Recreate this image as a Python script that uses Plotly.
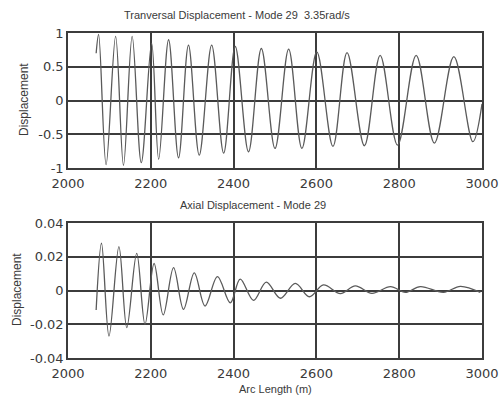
import plotly.graph_objects as go

# Transverse displacement: turning points read along the arc length (m)
trans_x = [2068, 2074, 2092, 2115, 2134, 2155, 2177, 2202, 2219, 2243, 2267,
           2291, 2317, 2347, 2376, 2404, 2436, 2467, 2500, 2533, 2565, 2601,
           2640, 2674, 2716, 2754, 2796, 2841, 2885, 2932, 2978, 3000]
trans_y = [0.70, 0.98, -0.95, 0.95, -0.96, 0.95, -0.92, 0.85, -0.87, 0.90,
           -0.85, 0.82, -0.81, 0.82, -0.78, 0.80, -0.76, 0.77, -0.71, 0.76,
           -0.71, 0.72, -0.68, 0.71, -0.67, 0.67, -0.66, 0.67, -0.63, 0.65,
           -0.61, -0.05]

# Axial displacement: turning points along the same arc length
axial_x = [2068, 2081, 2099, 2123, 2142, 2166, 2186, 2208, 2230, 2255, 2279,
           2305, 2331, 2361, 2392, 2416, 2448, 2479, 2513, 2549, 2583, 2617,
           2658, 2694, 2734, 2779, 2815, 2851, 2907, 2948, 2996]
axial_y = [-0.0115, 0.028, -0.027, 0.026, -0.022, 0.022, -0.020, 0.016,
           -0.0145, 0.0135, -0.0112, 0.0105, -0.0092, 0.0082, -0.0073, 0.0068,
           -0.0058, 0.0050, -0.0046, 0.0042, -0.0037, 0.0033, -0.0018, 0.0027,
           -0.0017, 0.0023, -0.0011, 0.0023, -0.0011, 0.0025, -0.0011]

x_ticks = [2000, 2200, 2400, 2600, 2800, 3000]
trans_ticks = [-1, -0.5, 0, 0.5, 1]
trans_labels = ["-1", "-0.5", "0", "0.5", "1"]
axial_ticks = [-0.04, -0.02, 0, 0.02, 0.04]
axial_labels = ["-0.04", "-0.02", "0", "0.02", "0.04"]

top_title = "Tranversal Displacement - Mode 29  3.35rad/s"
bottom_title = "Axial Displacement - Mode 29"
x_title = "Arc Length (m)"
y_title = "Displacement"

W, H = 502, 402
LINE = "#5a5a5a"
GRID = "#3c3c3c"
TEXT = "#3a3a3a"
FONT = "DejaVu Sans"

fig = go.Figure()
fig.add_trace(go.Scatter(x=trans_x, y=trans_y, mode="lines",
                         line=dict(color=LINE, width=1.3, shape="spline", smoothing=1.0),
                         xaxis="x", yaxis="y", showlegend=False))
fig.add_trace(go.Scatter(x=axial_x, y=axial_y, mode="lines",
                         line=dict(color=LINE, width=1.3, shape="spline", smoothing=1.0),
                         xaxis="x2", yaxis="y2", showlegend=False))

def px_x(p):
    return p / W

def px_y(p):
    return 1 - p / H

xdom = [px_x(68), px_x(482)]

axis_common = dict(showgrid=True, gridcolor=GRID, gridwidth=1.5,
                   showline=True, linecolor=GRID, linewidth=1.5, mirror=True,
                   zeroline=False, ticks="", automargin=False,
                   tickfont=dict(family=FONT, size=13, color=TEXT))

fig.update_layout(
    width=W, height=H,
    margin=dict(l=0, r=0, t=0, b=0),
    paper_bgcolor="white", plot_bgcolor="white",
    xaxis=dict(domain=xdom, anchor="y", range=[2000, 3000], tickvals=x_ticks,
               ticklabelstandoff=3, **axis_common),
    yaxis=dict(domain=[px_y(168), px_y(33)], anchor="x", range=[-1, 1],
               tickvals=trans_ticks, ticktext=trans_labels, **axis_common),
    xaxis2=dict(domain=xdom, anchor="y2", range=[2000, 3000], tickvals=x_ticks,
                ticklabelstandoff=3, **axis_common),
    yaxis2=dict(domain=[px_y(358), px_y(223)], anchor="x2", range=[-0.04, 0.04],
                tickvals=axial_ticks, ticktext=axial_labels, **axis_common),
    annotations=[
        dict(text=top_title, x=px_x(237), y=px_y(15), xref="paper", yref="paper",
             showarrow=False, xanchor="center", yanchor="middle",
             font=dict(family="Liberation Sans", size=11, color=TEXT)),
        dict(text=bottom_title, x=px_x(253), y=px_y(205), xref="paper", yref="paper",
             showarrow=False, xanchor="center", yanchor="middle",
             font=dict(family="Liberation Sans", size=11, color=TEXT)),
        dict(text=x_title, x=px_x(275), y=px_y(389), xref="paper", yref="paper",
             showarrow=False, xanchor="center", yanchor="middle",
             font=dict(family="Liberation Sans", size=11, color=TEXT)),
        dict(text=y_title, x=px_x(24), y=px_y(100), xref="paper", yref="paper",
             showarrow=False, xanchor="center", yanchor="middle", textangle=-90,
             font=dict(family="Liberation Sans", size=12, color=TEXT)),
        dict(text=y_title, x=px_x(17), y=px_y(290), xref="paper", yref="paper",
             showarrow=False, xanchor="center", yanchor="middle", textangle=-90,
             font=dict(family="Liberation Sans", size=12, color=TEXT)),
    ],
)

fig.write_html("out.html")
